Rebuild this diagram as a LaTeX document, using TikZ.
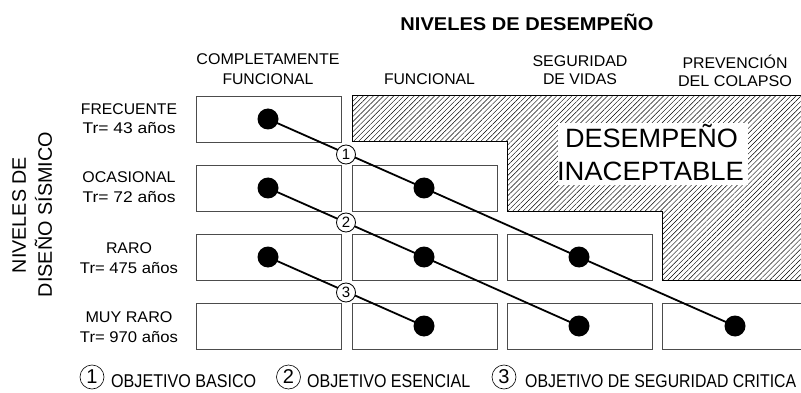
\documentclass[tikz,border=0pt]{standalone}
\usepackage{fontspec}
\setmainfont{Liberation Sans}
\usetikzlibrary{calc,patterns.meta}
\newcommand\fw[2]{\resizebox{#1}{\height}{#2}}
\begin{document}
\begin{tikzpicture}[x=1pt,y=-1pt,
  cell/.style={draw=black!70, line width=1.1pt, minimum width=145pt, minimum height=46pt, inner sep=0pt, anchor=north west},
  dot/.style={circle, fill=black, inner sep=0pt, minimum size=21pt},
  tag/.style={circle, draw=black, fill=white, line width=0.8pt, inner sep=0pt, minimum size=19pt, font=\fontsize{15}{15}\selectfont},
  ltag/.style={circle, draw=black, line width=0.6pt, inner sep=0pt, minimum size=24pt, font=\fontsize{20}{20}\selectfont},
  link/.style={line width=1.8pt},
  lbl/.style={inner sep=0pt, anchor=base, font=\fontsize{15.5}{15.5}\selectfont},
  leg/.style={inner sep=0pt, anchor=base west, font=\fontsize{18.5}{18.5}\selectfont},
  big/.style={inner sep=0pt, anchor=base, font=\fontsize{26.5}{26.5}\selectfont},
  vert/.style={inner sep=0pt, anchor=base, rotate=90, font=\fontsize{19.5}{19.5}\selectfont}
]
\useasboundingbox (0,0) rectangle (801,393);
\clip (0,0) rectangle (801,393);

% unacceptable region
\fill[pattern={Lines[angle=45,distance=3.6pt,line width=0.45pt]}]
  (352,96) -- (815,96) -- (815,280) -- (662,280) -- (662,211) -- (507,211) -- (507,142) -- (352,142) -- cycle;
\draw[line width=1pt]
  (352,96) -- (815,96) -- (815,280) -- (662,280) -- (662,211) -- (507,211) -- (507,142) -- (352,142) -- cycle;
\node[fill=white, minimum width=190pt, minimum height=62pt, inner sep=0pt] (ina) at (653,154) {};
\node[big] (ina1) at (651.5,148) {\fw{173pt}{DESEMPEÑO}};
\node[big] (ina2) at (650.5,180) {\fw{187pt}{INACEPTABLE}};

% title and headers
\node[inner sep=0pt, anchor=base, font=\bfseries\fontsize{18.5}{18.5}\selectfont] (title) at (527,31) {\fw{253pt}{NIVELES DE DESEMPEÑO}};
\node[lbl] (h1a) at (268,65) {\fw{143pt}{COMPLETAMENTE}};
\node[lbl] (h1b) at (268,85) {\fw{91pt}{FUNCIONAL}};
\node[lbl] (h2) at (429.5,85) {\fw{91pt}{FUNCIONAL}};
\node[lbl] (h3a) at (580,67) {\fw{95pt}{SEGURIDAD}};
\node[lbl] (h3b) at (580,85) {\fw{74pt}{DE VIDAS}};
\node[lbl] (h4a) at (735,69) {\fw{105pt}{PREVENCIÓN}};
\node[lbl] (h4b) at (735,87) {\fw{114pt}{DEL COLAPSO}};

% row labels
\node[lbl] (r1a) at (129,115) {\fw{96pt}{FRECUENTE}};
\node[lbl] (r1b) at (129,134) {\fw{93pt}{Tr= 43 años}};
\node[lbl] (r2a) at (129,183) {\fw{93pt}{OCASIONAL}};
\node[lbl] (r2b) at (129,203) {\fw{93pt}{Tr= 72 años}};
\node[lbl] (r3a) at (129,253) {\fw{46pt}{RARO}};
\node[lbl] (r3b) at (129,273) {\fw{98pt}{Tr= 475 años}};
\node[lbl] (r4a) at (129,322) {\fw{87pt}{MUY RARO}};
\node[lbl] (r4b) at (129,342) {\fw{98pt}{Tr= 970 años}};

\node[vert] (v1) at (26,215) {\fw{116pt}{NIVELES DE}};
\node[vert] (v2) at (52,214.5) {\fw{165pt}{DISEÑO SÍSMICO}};

% cells
\node[cell] (b11) at (196,96) {};
\node[cell] (b21) at (196,165) {};
\node[cell] (b22) at (352,165) {};
\node[cell] (b31) at (196,234) {};
\node[cell] (b32) at (352,234) {};
\node[cell] (b33) at (507,234) {};
\node[cell] (b41) at (196,303) {};
\node[cell] (b42) at (352,303) {};
\node[cell] (b43) at (507,303) {};
\node[cell, minimum width=150pt] (b44) at (662,303) {};

% dots
\node[dot] (d11) at (268,119) {};
\node[dot] (d21) at (268,188) {};
\node[dot] (d22) at (424,188) {};
\node[dot] (d31) at (268,257) {};
\node[dot] (d32) at (424,257) {};
\node[dot] (d33) at (579,257) {};
\node[dot] (d42) at (424,326) {};
\node[dot] (d43) at (579,326) {};
\node[dot] (d44) at (735,326) {};

% objective lines
\draw[link] (d11.center) -- (d22.center) -- (d33.center) -- (d44.center);
\draw[link] (d21.center) -- (d32.center) -- (d43.center);
\draw[link] (d31.center) -- (d42.center);

\node[tag] (t1) at ($(d11)!0.5!(d22)+(0,1)$) {1};
\node[tag] (t2) at ($(d21)!0.5!(d32)$) {2};
\node[tag] (t3) at ($(d31)!0.5!(d42)+(0,1)$) {3};

% legend
\node[ltag] (l1) at (92,377) {1};
\node[leg] (l1t) at (111,387) {\fw{145pt}{OBJETIVO BASICO}};
\node[ltag] (l2) at (288.5,377) {2};
\node[leg] (l2t) at (307,387) {\fw{163pt}{OBJETIVO ESENCIAL}};
\node[ltag] (l3) at (504,377) {3};
\node[leg] (l3t) at (525,387) {\fw{271pt}{OBJETIVO DE SEGURIDAD CRITICA}};
\end{tikzpicture}
\end{document}
